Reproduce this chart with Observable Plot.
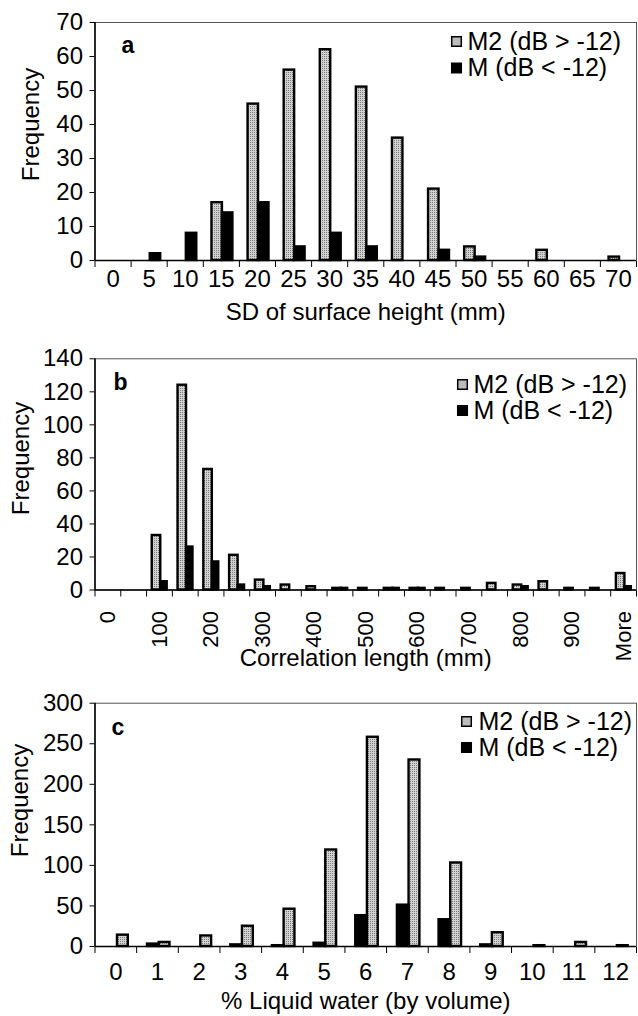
<!DOCTYPE html>
<html><head><meta charset="utf-8">
<script src="https://cdn.jsdelivr.net/npm/d3@7"></script>
<script src="https://cdn.jsdelivr.net/npm/@observablehq/plot@0.6"></script>
<style>
body{margin:0;background:#fff;}
#chart{width:638px;}
#chart svg{display:block;}
</style></head><body>
<svg width="0" height="0" style="position:absolute">
  <defs>
    <pattern id="stipple" width="2" height="2" patternUnits="userSpaceOnUse">
      <rect width="2" height="2" fill="#d2d2d2"></rect>
      <rect width="1" height="1" fill="#7a7a7a"></rect>
    </pattern>
  </defs>
</svg>
<div id="chart"></div>
<script>
// ---- Panel a: SD of surface height (mm)
const aCats = ["0","5","10","15","20","25","30","35","40","45","50","55","60","65","70"];
const aM2 = [0,0,0,17,46,56,62,51,36,21,4,0,3,0,1];
const aM  = [0,2,8,14,17,4,8,4,0,3,1,0,0,0,0];
const aYTicks = [0,10,20,30,40,50,60,70];

// ---- Panel b: Correlation length (mm)
const bCats = ["0","50","100","150","200","250","300","350","400","450","500","550","600","650","700","750","800","850","900","950","More"];
const bTickLabels = ["0","","100","","200","","300","","400","","500","","600","","700","","800","","900","","More"];
const bM2 = [0,0,33,124,73,21,6,3,2,1,1,1,1,1,1,4,3,5,1,1,10];
const bM  = [0,0,5,26,17,3,2,0,0,1,0,1,1,0,0,0,2,0,0,0,2];
const bYTicks = [0,20,40,60,80,100,120,140];

// ---- Panel c: % Liquid water (by volume)
const cCats = ["0","1","2","3","4","5","6","7","8","9","10","11","12"];
const cM2 = [14,5,13,25,46,119,258,230,103,17,1,5,1];
const cM  = [0,3,0,2,1,4,38,51,33,2,0,0,0];
const cYTicks = [0,50,100,150,200,250,300];

const legendM2 = "M2 (dB > -12)";
const legendM = "M (dB < -12)";

const FONT = "'Liberation Sans', Arial, Helvetica, sans-serif";
const W = 638, ML = 94.5, MR = 2;
const M2FILL = "url(#stipple)";

function panel(o) {
  const n = o.cats.length;
  const rows = o.cats.map((c, i) => ({i, c, m2: o.m2[i], m: o.m[i], label: o.labels[i]}));
  const [m2a, m2b] = o.m2Off, [ma, mb] = o.mOff;
  const rotated = !!o.rotate;
  return Plot.plot({
    width: W, height: o.height,
    marginLeft: ML, marginRight: MR, marginTop: o.mt, marginBottom: o.mb,
    style: {fontFamily: FONT, fontSize: "24px", background: "white", color: "black", overflow: "visible"},
    x: {type: "linear", domain: [0, n], ticks: d3.range(n + 1), tickSize: 7, tickFormat: () => "", label: null},
    y: {domain: [0, o.yMax], ticks: o.yTicks, tickSize: 5, tickPadding: 7, label: null},
    marks: [
      Plot.frame({stroke: "#555", strokeWidth: 1}),
      Plot.rect(rows.filter(d => d.m2 > 0), {x1: d => d.i + m2a, x2: d => d.i + m2b, y1: 0, y2: "m2", fill: M2FILL, stroke: "black", strokeWidth: 2.4}),
      Plot.rect(rows.filter(d => d.m > 0), {x1: d => d.i + ma, x2: d => d.i + mb, y1: 0, y2: "m", fill: "black", stroke: "black", strokeWidth: 2.4}),
      Plot.ruleY([0], {stroke: "black", strokeWidth: 1.5}),
      Plot.ruleX([0], {stroke: "black", strokeWidth: 1.5}),
      rotated
        ? Plot.text(rows, {x: d => d.i + 0.5, frameAnchor: "bottom", dy: o.labelDy, text: "label", rotate: -90, textAnchor: "end", lineAnchor: "middle", fontSize: 22})
        : Plot.text(rows, {x: d => d.i + 0.5, frameAnchor: "bottom", dy: o.labelDy, text: "label", lineAnchor: "top", fontSize: 24}),
      Plot.text([o.xTitle], {frameAnchor: "bottom", dy: o.titleDy, lineAnchor: "middle", fontSize: 24}),
      Plot.text(["Frequency"], {frameAnchor: "top-left", dx: o.yTitleX - ML, dy: o.yTitleY - o.mt, rotate: -90, textAnchor: "middle", lineAnchor: "middle", fontSize: 24}),
      Plot.text([o.letter], {frameAnchor: "top-left", dx: o.letterX - ML, dy: o.letterY - o.mt, textAnchor: "middle", lineAnchor: "middle", fontWeight: "bold", fontSize: 23}),
      Plot.dot([0], {frameAnchor: "top-left", dx: o.legX - ML, dy: o.legY - o.mt, symbol: "square", r: 5.4, fill: M2FILL, stroke: "black", strokeWidth: 1.5}),
      Plot.dot([0], {frameAnchor: "top-left", dx: o.legX - ML, dy: o.legY + o.legGap - o.mt, symbol: "square", r: 5.4, fill: "black", stroke: "black", strokeWidth: 1.5}),
      Plot.text([legendM2], {frameAnchor: "top-left", dx: o.legTextX - ML, dy: o.legY - o.mt, textAnchor: "start", lineAnchor: "middle", fontSize: 25}),
      Plot.text([legendM], {frameAnchor: "top-left", dx: o.legTextX - ML, dy: o.legY + o.legGap - o.mt, textAnchor: "start", lineAnchor: "middle", fontSize: 25})
    ]
  });
}

const chart = document.getElementById("chart");
chart.append(panel({
  cats: aCats, labels: aCats, m2: aM2, m: aM, yMax: 70, yTicks: aYTicks,
  height: 330, mt: 22, mb: 70,
  m2Off: [0.24, 0.53], mOff: [0.53, 0.82],
  labelDy: 9, titleDy: 52, xTitle: "SD of surface height (mm)",
  yTitleX: 31, yTitleY: 124, letter: "a", letterX: 127.5, letterY: 45,
  legX: 456, legY: 41, legGap: 26.5, legTextX: 467
}));
chart.append(panel({
  cats: bCats, labels: bTickLabels, m2: bM2, m: bM, yMax: 140, yTicks: bYTicks,
  height: 345, mt: 28.3, mb: 85.5, rotate: true,
  m2Off: [0.22, 0.55], mOff: [0.55, 0.80],
  labelDy: 21, titleDy: 68.5, xTitle: "Correlation length (mm)",
  yTitleX: 21, yTitleY: 128, letter: "b", letterX: 120, letterY: 52,
  legX: 462, legY: 54, legGap: 26, legTextX: 473
}));
chart.append(panel({
  cats: cCats, labels: cCats, m2: cM2, m: cM, yMax: 300, yTicks: cYTicks,
  height: 341, mt: 27.7, mb: 70,
  m2Off: [0.54, 0.80], mOff: [0.26, 0.54],
  labelDy: 16, titleDy: 55, xTitle: "% Liquid water (by volume)",
  yTitleX: 20, yTitleY: 125, letter: "c", letterX: 117.5, letterY: 52,
  legX: 466, legY: 46, legGap: 26, legTextX: 478
}));
</script>
</body></html>
